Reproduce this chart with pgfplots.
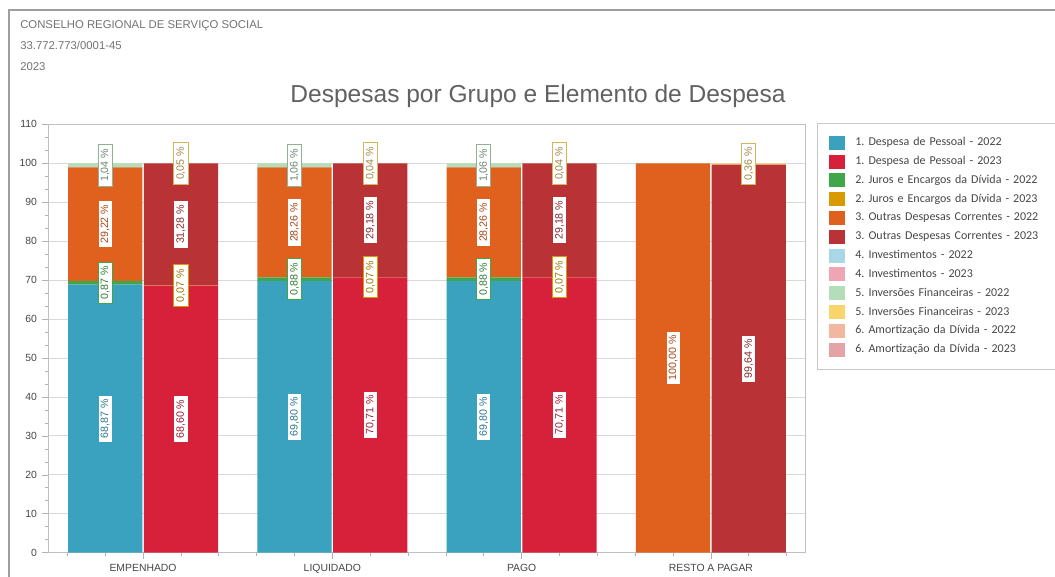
\documentclass[border=0pt]{standalone}
\usepackage{fontspec}
\setmainfont{Liberation Sans}
\newfontfamily\carlito{Carlito}
\usepackage{pgfplots}
\usepackage{pgfplotstable}
\pgfplotsset{compat=1.18}
\frenchspacing

\definecolor{cPes22}{HTML}{3AA1BF}
\definecolor{cPes23}{HTML}{D7213B}
\definecolor{cJur22}{HTML}{40A649}
\definecolor{cJur23}{HTML}{D99A00}
\definecolor{cOut22}{HTML}{E0601D}
\definecolor{cOut23}{HTML}{B93336}
\definecolor{cInv22}{HTML}{AAD7E5}
\definecolor{cInv23}{HTML}{F0A5B4}
\definecolor{cIfi22}{HTML}{B4DDB9}
\definecolor{cIfi23}{HTML}{F9D56C}
\definecolor{cAmo22}{HTML}{F1B89F}
\definecolor{cAmo23}{HTML}{E3A3A7}

% bars: 2022 at category-0.2, 2023 at category+0.2
\pgfplotstableread{
x pes22 pes23 jur22 jur23 out22 out23 inv22 inv23 ifi22 ifi23 amo22 amo23
-0.2 68.87 0 0.87 0 29.22 0 0 0 1.04 0 0 0
0.2 0 68.60 0 0.07 0 31.28 0 0 0 0.05 0 0
0.8 69.80 0 0.88 0 28.26 0 0 0 1.06 0 0 0
1.2 0 70.71 0 0.07 0 29.18 0 0 0 0.04 0 0
1.8 69.80 0 0.88 0 28.26 0 0 0 1.06 0 0 0
2.2 0 70.71 0 0.07 0 29.18 0 0 0 0.04 0 0
2.8 0 0 0 0 100.00 0 0 0 0 0 0 0
3.2 0 0 0 0 0 99.64 0 0 0 0.36 0 0
}\bars

% labels: x, y (segment middle), value
\pgfplotstableread{
x y v
-0.2 34.435 68.87
0.8 34.90 69.80
1.8 34.90 69.80
}\lPesA
\pgfplotstableread{
x y v
0.2 34.30 68.60
1.2 35.355 70.71
2.2 35.355 70.71
}\lPesB
\pgfplotstableread{
x y v
-0.2 69.305 0.87
0.8 70.24 0.88
1.8 70.24 0.88
}\lJurA
\pgfplotstableread{
x y v
0.2 68.635 0.07
1.2 70.745 0.07
2.2 70.745 0.07
}\lJurB
\pgfplotstableread{
x y v
-0.2 84.35 29.22
0.8 84.81 28.26
1.8 84.81 28.26
2.8 50.00 100.00
}\lOutA
\pgfplotstableread{
x y v
0.2 84.31 31.28
1.2 85.37 29.18
2.2 85.37 29.18
3.2 49.82 99.64
}\lOutB
\pgfplotstableread{
x y v
-0.2 99.48 1.04
0.8 99.47 1.06
1.8 99.47 1.06
}\lIfiA
\pgfplotstableread{
x y v
0.2 99.975 0.05
1.2 99.98 0.04
2.2 99.98 0.04
3.2 99.82 0.36
}\lIfiB

\tikzset{lbl/.style={rotate=90, anchor=center, fill=white, draw=#1, text=#1!75!black,
  line width=0.6pt, inner xsep=3pt, inner ysep=2pt, font=\fontsize{8}{9}\selectfont}}

\pgfplotsset{
  common/.style={
    at={(36.3pt,18.2pt)}, anchor=south west,
    scale only axis, width=567.9pt, height=321.3pt,
    xmin=-0.5, xmax=3.5, ymin=0, ymax=110,
  },
  lblplot/.style={only marks, mark=none, point meta=\thisrow{v},
    nodes near coords={\pgfmathprintnumber[fixed, fixed zerofill, precision=2, use comma, assume math mode=true]{\pgfplotspointmeta}~\%},
    nodes near coords style={lbl=#1}},
}

\begin{document}
\begin{tikzpicture}
\useasboundingbox (0,0) rectangle (791.25pt,432.75pt);
\fill[white] (0,0) rectangle (791.25pt,432.75pt);
% outer frame
\draw[line width=1.5pt, color=black!38] (7.1pt,-5pt) -- (7.1pt,424.9pt) -- (800pt,424.9pt);
% header
\node[anchor=base west, text=black!55, font=\fontsize{8.5}{10}\selectfont, inner sep=0pt] at (15pt,411.4pt) {CONSELHO REGIONAL DE SERVIÇO SOCIAL};
\node[anchor=base west, text=black!55, font=\fontsize{8.5}{10}\selectfont, inner sep=0pt] at (15pt,395.6pt) {33.772.773/0001-45};
\node[anchor=base west, text=black!55, font=\fontsize{8.5}{10}\selectfont, inner sep=0pt] at (15pt,380.2pt) {2023};
% title
\node[anchor=base, text=black!62, font=\fontsize{18.4}{20}\selectfont, inner sep=0pt] at (403.5pt,355.5pt) {Despesas por Grupo e Elemento de Despesa};

\begin{axis}[common,
  ybar stacked, bar width=0.392,
  legend image code/.code={\fill[#1] (0pt,-5.25pt) rectangle (12pt,5.25pt);},
  xtick={0,1,2,3},
  xticklabels={EMPENHADO,LIQUIDADO,PAGO,RESTO A PAGAR},
  minor xtick={-0.4,-0.2,0.2,0.4,0.6,0.8,1.2,1.4,1.6,1.8,2.2,2.4,2.6,2.8,3.2,3.4},
  ytick={0,10,...,110}, minor y tick num=2,
  xtick pos=bottom, ytick pos=left,
  tick align=outside, major tick length=5pt, minor tick length=2.5pt,
  tick style={color=black!30, line width=0.5pt},
  ymajorgrids, major grid style={color=black!15, line width=0.6pt},
  axis line style={color=black!25, line width=0.6pt},
  tick label style={font=\fontsize{7.8}{9}\selectfont, text=black!72},
  /pgf/number format/assume math mode=true,
  legend cell align=left,
  legend style={at={(1.01506,1.00311)}, anchor=north west,
    draw=black!22, fill=white, line width=0.6pt,
    font=\carlito\fontsize{9}{11}\selectfont\frenchspacing, text=black!72,
    inner xsep=9pt, inner ysep=7.5pt, row sep=0pt, column sep=7.5pt,
    nodes={inner sep=0pt, minimum height=14.1pt},
    /tikz/every even column/.append style={text width=200pt, align=left}},
]
\addplot[fill=cPes22, draw=none] table[x=x, y=pes22]{\bars};
\addlegendentry{1. Despesa de Pessoal - 2022}
\addplot[fill=cPes23, draw=none] table[x=x, y=pes23]{\bars};
\addlegendentry{1. Despesa de Pessoal - 2023}
\addplot[fill=cJur22, draw=none] table[x=x, y=jur22]{\bars};
\addlegendentry{2. Juros e Encargos da Dívida - 2022}
\addplot[fill=cJur23, draw=none] table[x=x, y=jur23]{\bars};
\addlegendentry{2. Juros e Encargos da Dívida - 2023}
\addplot[fill=cOut22, draw=none] table[x=x, y=out22]{\bars};
\addlegendentry{3. Outras Despesas Correntes - 2022}
\addplot[fill=cOut23, draw=none] table[x=x, y=out23]{\bars};
\addlegendentry{3. Outras Despesas Correntes - 2023}
\addplot[fill=cInv22, draw=none] table[x=x, y=inv22]{\bars};
\addlegendentry{4. Investimentos - 2022}
\addplot[fill=cInv23, draw=none] table[x=x, y=inv23]{\bars};
\addlegendentry{4. Investimentos - 2023}
\addplot[fill=cIfi22, draw=none] table[x=x, y=ifi22]{\bars};
\addlegendentry{5. Inversões Financeiras - 2022}
\addplot[fill=cIfi23, draw=none] table[x=x, y=ifi23]{\bars};
\addlegendentry{5. Inversões Financeiras - 2023}
\addplot[fill=cAmo22, draw=none] table[x=x, y=amo22]{\bars};
\addlegendentry{6. Amortização da Dívida - 2022}
\addplot[fill=cAmo23, draw=none] table[x=x, y=amo23]{\bars};
\addlegendentry{6. Amortização da Dívida - 2023}
\end{axis}

\begin{axis}[common, hide axis, clip=false]
\addplot[lblplot=cPes22] table[x=x, y=y]{\lPesA};
\addplot[lblplot=cPes23] table[x=x, y=y]{\lPesB};
\addplot[lblplot=cJur22] table[x=x, y=y]{\lJurA};
\addplot[lblplot=cJur23] table[x=x, y=y]{\lJurB};
\addplot[lblplot=cOut22] table[x=x, y=y]{\lOutA};
\addplot[lblplot=cOut23] table[x=x, y=y]{\lOutB};
\addplot[lblplot=cIfi22!80!black] table[x=x, y=y]{\lIfiA};
\addplot[lblplot=cIfi23!85!black] table[x=x, y=y]{\lIfiB};
\end{axis}
\end{tikzpicture}
\end{document}
